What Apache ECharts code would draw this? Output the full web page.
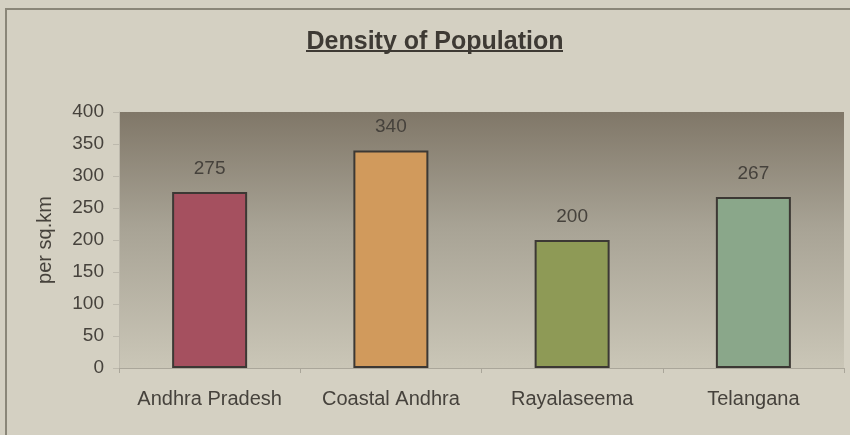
<!DOCTYPE html>
<html>
<head>
<meta charset="utf-8">
<script src="https://cdn.jsdelivr.net/npm/echarts@6/dist/echarts.min.js"></script>
<style>
  html, body { margin: 0; padding: 0; background: #d4d0c2; }
  #chart { width: 850px; height: 435px; }
</style>
</head>
<body>
<div id="chart"></div>
<script>
const categories = ['Andhra Pradesh', 'Coastal Andhra', 'Rayalaseema', 'Telangana']
const density = [275, 340, 200, 267]
const barColors = ['#a5505f', '#d19a5c', '#8e9a56', '#8aa78a']
const yTicks = [0, 50, 100, 150, 200, 250, 300, 350, 400]

const textColor = '#46423c'
const chart = echarts.init(document.getElementById('chart'))

chart.setOption({
  backgroundColor: '#d4d0c2',
  animation: false,
  title: {
    text: 'Density of Population',
    left: 430,
    top: 25,
    textAlign: 'center',
    textStyle: { color: '#3e3a34', fontSize: 25, fontWeight: 'bold', fontFamily: 'Liberation Sans' }
  },
  graphic: [
    // chart frame
    {
      type: 'rect',
      shape: { x: 6, y: 9, width: 900, height: 500 },
      style: { fill: 'none', stroke: '#8a8678', lineWidth: 2 },
      silent: true
    },
    // title underline
    {
      type: 'line',
      shape: { x1: 306, y1: 51, x2: 563, y2: 51 },
      style: { stroke: '#3e3a34', lineWidth: 2 },
      silent: true
    }
  ],
  grid: {
    left: 119,
    right: 6,
    top: 112,
    bottom: 67,
    show: true,
    borderWidth: 0,
    backgroundColor: new echarts.graphic.LinearGradient(0, 0, 0, 1, [
      { offset: 0, color: '#807768' },
      { offset: 0.45, color: '#a8a395' },
      { offset: 1, color: '#cac6b7' }
    ])
  },
  xAxis: {
    type: 'category',
    data: categories,
    axisLine: { lineStyle: { color: '#aaa69a', width: 1 } },
    axisTick: { show: true, interval: 0, length: 5, lineStyle: { color: '#aaa69a' } },
    axisLabel: {
      color: textColor,
      fontSize: 20,
      fontFamily: 'Liberation Sans',
      margin: 21,
      interval: 0,
      hideOverlap: false
    }
  },
  yAxis: {
    type: 'value',
    min: 0,
    max: yTicks[yTicks.length - 1],
    interval: yTicks[1] - yTicks[0],
    name: 'per sq.km',
    nameLocation: 'middle',
    nameGap: 64,
    nameTextStyle: { color: textColor, fontSize: 20, fontFamily: 'Liberation Sans' },
    axisLine: { show: true, lineStyle: { color: '#bdb9ad' } },
    axisTick: { show: true, length: 6, lineStyle: { color: '#bdb9ad' } },
    splitLine: { show: false },
    axisLabel: { color: textColor, fontSize: 19, fontFamily: 'Liberation Sans', margin: 15 }
  },
  series: [
    {
      type: 'bar',
      data: density.map((v, i) => ({
        value: v,
        itemStyle: { color: barColors[i] }
      })),
      barWidth: 75,
      itemStyle: { borderColor: '#3c3834', borderWidth: 2 },
      label: {
        show: true,
        position: 'top',
        distance: 14,
        color: textColor,
        fontSize: 19,
        fontFamily: 'Liberation Sans'
      }
    }
  ]
})
</script>
</body>
</html>
